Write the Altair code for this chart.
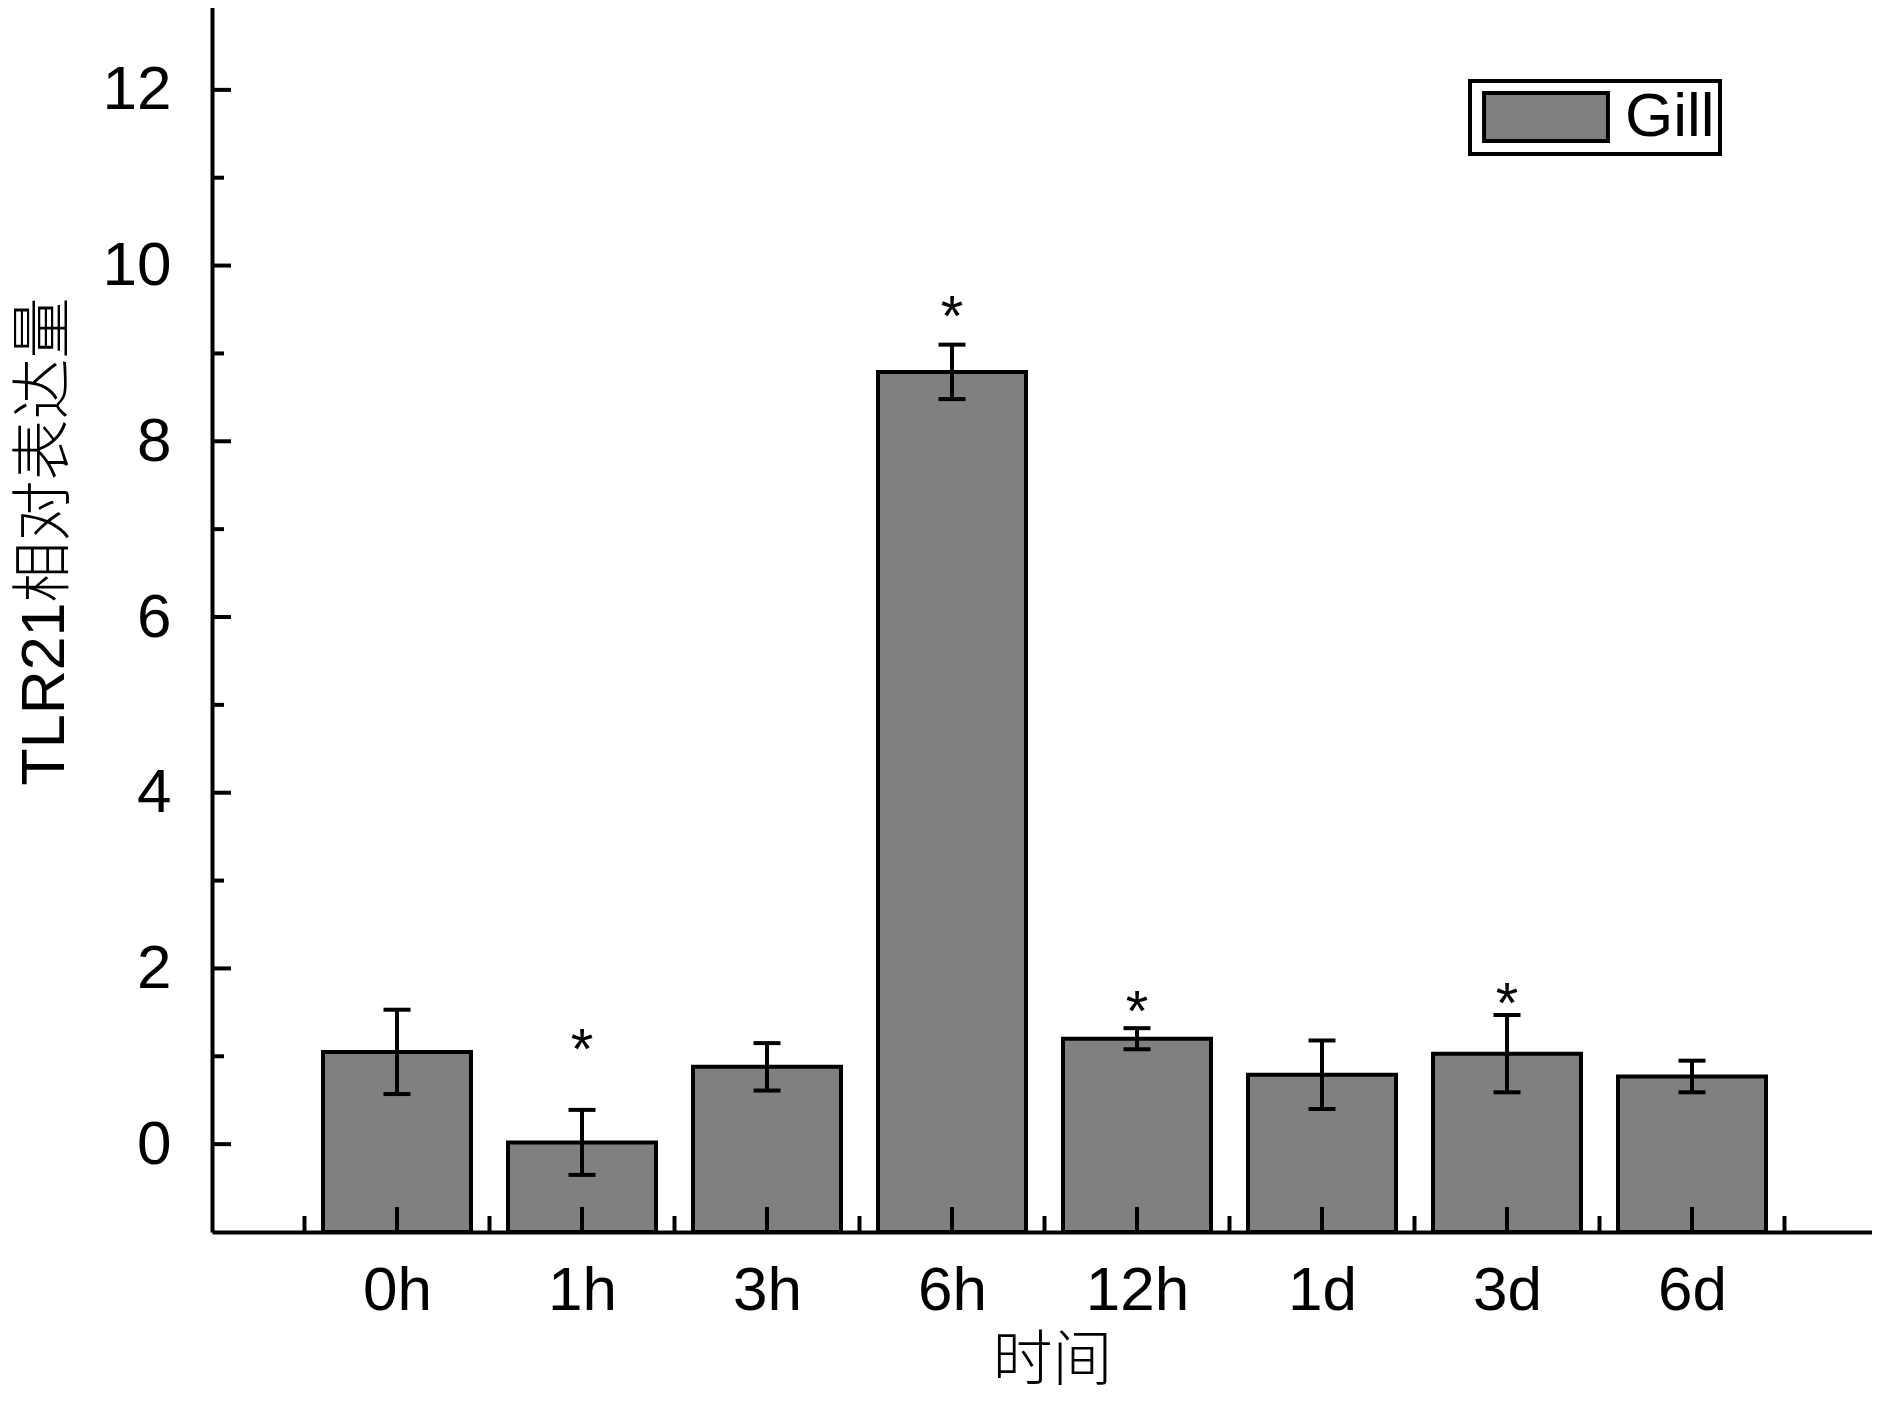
import json
import altair as alt
import pandas as pd

categories = ["0h", "1h", "3h", "6h", "12h", "1d", "3d", "6d"]
means = [1.05, 0.02, 0.88, 8.79, 1.20, 0.79, 1.03, 0.77]
errors = [0.48, 0.37, 0.27, 0.31, 0.12, 0.39, 0.44, 0.18]
star_y = [None, 1.19, None, 9.53, 1.62, None, 1.71, None]
series = ["Gill"] * len(categories)

y_major = [0, 2, 4, 6, 8, 10, 12]
y_minor = [1, 3, 5, 7, 9, 11, 13]
x_major = [1, 2, 3, 4, 5, 6, 7, 8, 9]
x_minor = [0.5, 1.5, 2.5, 3.5, 4.5, 5.5, 6.5, 7.5, 8.5]

W = 1665
H = 1230
LATIN = "Liberation Sans"
MIXED = "Liberation Sans, Noto Sans CJK SC"

df = pd.DataFrame({
    "cat": categories,
    "pos": list(range(1, len(categories) + 1)),
    "mean": means,
    "err": errors,
    "star": star_y,
    "series": series,
})

xscale = alt.Scale(domain=[0, 9], nice=False, zero=False)
yscale = alt.Scale(domain=[-1, 13], nice=False, zero=False)

label_expr = json.dumps(categories) + "[datum.value - 1]"

X_AXIS = alt.Axis(
    values=list(range(1, len(categories) + 1)), labelExpr=label_expr,
    ticks=False, tickSize=0, domainColor="black", domainWidth=4, grid=False,
    labelFont=LATIN, labelFontSize=62, labelColor="black", labelPadding=28,
    labelFlush=False,
    title="时间", titleFont=MIXED, titleFontSize=60, titleFontWeight=300,
    titleColor="black", titleX=840, titleY=147, titleBaseline="alphabetic",
    titleAnchor="middle", titleAlign="center", zindex=1)
Y_AXIS = alt.Axis(
    values=y_major, ticks=False, tickSize=0, domainColor="black",
    domainWidth=4, grid=False, labelFont=LATIN, labelFontSize=62,
    labelColor="black", labelPadding=41, labelFlush=False,
    title="TLR21相对表达量", titleFont=MIXED, titleFontSize=61,
    titleFontWeight=300, titleColor="black", titleX=-149, titleY=539,
    titleAngle=270, titleBaseline="alphabetic", titleAlign="center",
    titleAnchor="middle", zindex=1)

base = alt.Chart(df).transform_calculate(
    x0="datum.pos - 0.4", x1="datum.pos + 0.4", base="-1",
    lo="datum.mean - datum.err", hi="datum.mean + datum.err",
)

bars = base.mark_bar(stroke="black", strokeWidth=4, opacity=1).encode(
    x=alt.X("x0:Q", scale=xscale, axis=X_AXIS),
    x2="x1:Q",
    y=alt.Y("mean:Q", scale=yscale, axis=Y_AXIS),
    y2="base:Q",
    color=alt.Color("series:N", scale=alt.Scale(range=["#808080"]), legend=alt.Legend(
        title=None, orient="none", legendX=1258, legendY=79,
        symbolType="M-2.58,-1H2.58V1H-2.58Z", symbolSize=2304,
        symbolOffset=40,
        symbolStrokeColor="black", symbolStrokeWidth=4, symbolOpacity=1,
        labelFont=LATIN, labelFontSize=62, labelColor="black", labelOffset=48,
        strokeColor="black", fillColor="white", padding=5, cornerRadius=0)),
)

err_rule = base.mark_rule(color="black", strokeWidth=4).encode(
    x=alt.X("pos:Q", scale=xscale, axis=X_AXIS),
    y=alt.Y("lo:Q", scale=yscale, axis=Y_AXIS),
    y2="hi:Q",
)
cap_hi = base.mark_tick(color="black", orient="horizontal", size=27, thickness=4, opacity=1).encode(
    x=alt.X("pos:Q", scale=xscale, axis=X_AXIS),
    y=alt.Y("hi:Q", scale=yscale, axis=Y_AXIS),
)
cap_lo = base.mark_tick(color="black", orient="horizontal", size=27, thickness=4, opacity=1).encode(
    x=alt.X("pos:Q", scale=xscale, axis=X_AXIS),
    y=alt.Y("lo:Q", scale=yscale, axis=Y_AXIS),
)
stars = base.transform_filter("datum.star != null").mark_text(
    text="*", font=LATIN, fontSize=58, baseline="alphabetic", align="center", dy=29,
    color="black").encode(
    x=alt.X("pos:Q", scale=xscale, axis=X_AXIS),
    y=alt.Y("star:Q", scale=yscale, axis=Y_AXIS),
)

ymaj = alt.Chart(pd.DataFrame({"v": y_major})).mark_rule(color="black", strokeWidth=4).encode(
    y=alt.Y("v:Q", scale=yscale, axis=Y_AXIS), x=alt.value(0), x2=alt.value(19))
ymin = alt.Chart(pd.DataFrame({"v": y_minor})).mark_rule(color="black", strokeWidth=4).encode(
    y=alt.Y("v:Q", scale=yscale, axis=Y_AXIS), x=alt.value(0), x2=alt.value(12))
xmaj = alt.Chart(pd.DataFrame({"v": x_major})).mark_rule(color="black", strokeWidth=4).encode(
    x=alt.X("v:Q", scale=xscale, axis=X_AXIS), y=alt.value(H), y2=alt.value(H - 25))
xmin = alt.Chart(pd.DataFrame({"v": x_minor})).mark_rule(color="black", strokeWidth=4).encode(
    x=alt.X("v:Q", scale=xscale, axis=X_AXIS), y=alt.value(H), y2=alt.value(H - 16))

chart = alt.layer(bars, err_rule, cap_hi, cap_lo, stars, ymaj, ymin, xmaj, xmin).properties(
    width=W, height=H,
    autosize=alt.AutoSizeParams(type="none"),
    padding={"left": 204, "right": -5, "top": -6, "bottom": 163},
    background="white",
).configure_view(stroke=None).configure_legend(strokeWidth=4)

chart.save("out.html", embed_options={"renderer": "svg", "actions": False})
